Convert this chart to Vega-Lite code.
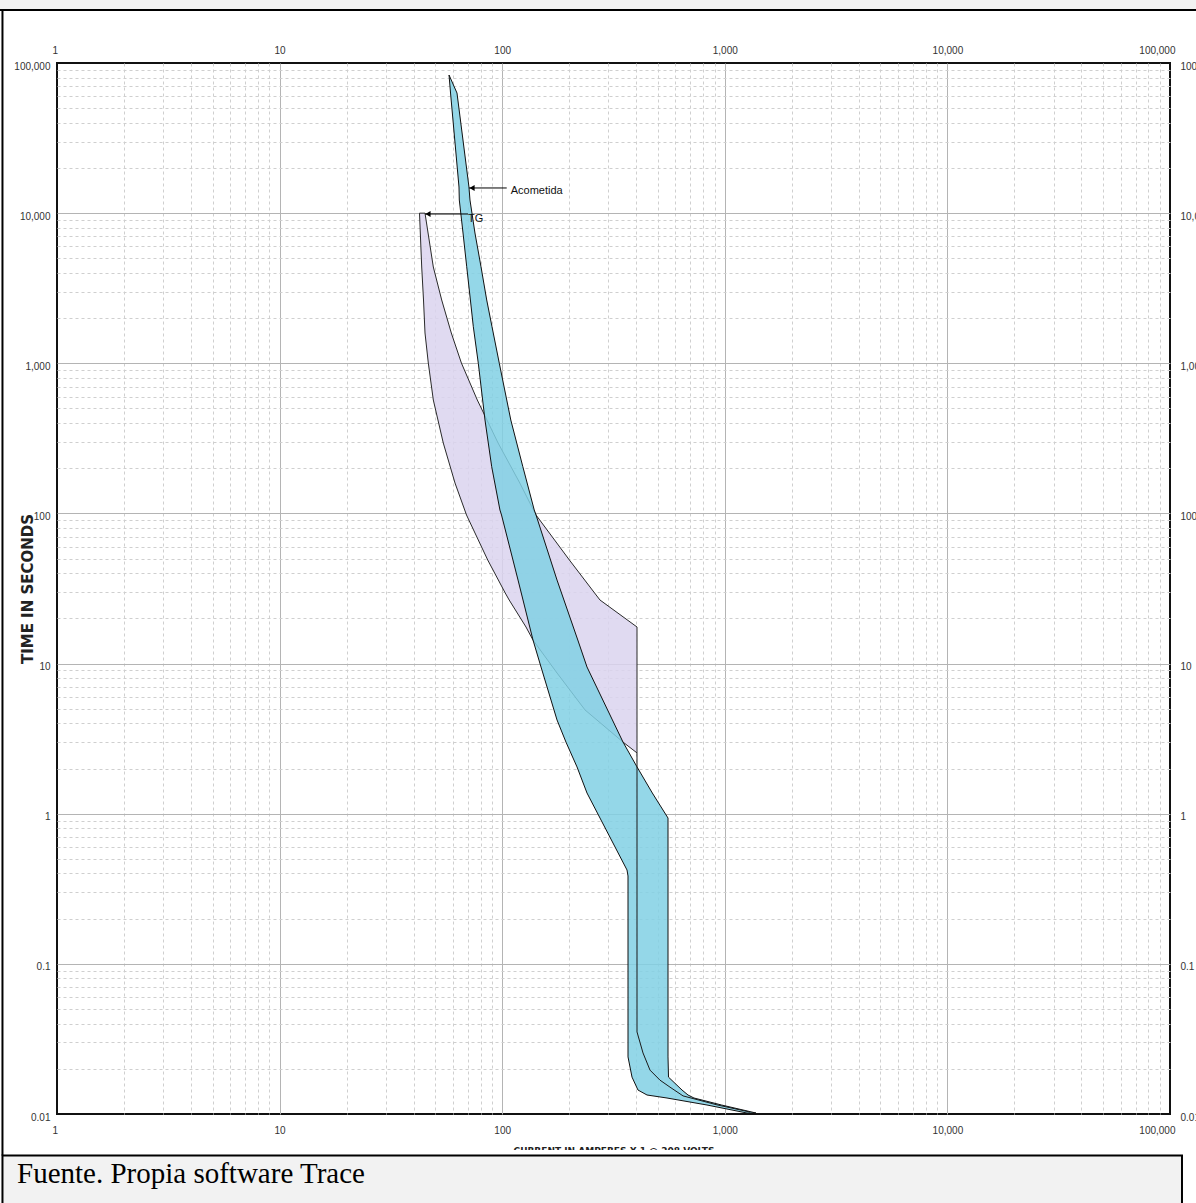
{
  "$schema": "https://vega.github.io/schema/vega-lite/v6.json",
  "width": 1113,
  "height": 1051,
  "autosize": {"type": "none"},
  "padding": {"left": 57, "top": 63, "right": 26, "bottom": 89},
  "background": "#ffffff",
  "config": {"view": {"stroke": "#111111", "strokeWidth": 2}},
  "datasets": {
    "tg_band": [
      {"time_s": 10000, "amp_min": 42.51, "amp_max": 45.0},
      {"time_s": 4378, "amp_min": 43.49, "amp_max": 49.04},
      {"time_s": 2640, "amp_min": 44.31, "amp_max": 53.48},
      {"time_s": 1591, "amp_min": 45.0, "amp_max": 59.07},
      {"time_s": 1004, "amp_min": 46.56, "amp_max": 65.57},
      {"time_s": 569.3, "amp_min": 49.04, "amp_max": 77.3},
      {"time_s": 294.4, "amp_min": 54.37, "amp_max": 95.85},
      {"time_s": 159.4, "amp_min": 61.38, "amp_max": 120.0},
      {"time_s": 97.6, "amp_min": 69.13, "amp_max": 141.9},
      {"time_s": 48.95, "amp_min": 86.1, "amp_max": 200.4},
      {"time_s": 29.5, "amp_min": 103.2, "amp_max": 260.1},
      {"time_s": 26.5, "amp_min": 107.5, "amp_max": 275.0},
      {"time_s": 17.52, "amp_min": 127.9, "amp_max": 403.3},
      {"time_s": 14.35, "amp_min": 137.5, "amp_max": 403.3},
      {"time_s": 8.65, "amp_min": 176.3, "amp_max": 403.3},
      {"time_s": 4.91, "amp_min": 235.5, "amp_max": 403.3},
      {"time_s": 3.0, "amp_min": 348.9, "amp_max": 403.3},
      {"time_s": 2.54, "amp_min": 403.3, "amp_max": 403.3}
    ],
    "acom_band": [
      {"time_s": 83180, "amp_min": 57.7, "amp_max": 57.7},
      {"time_s": 63100, "amp_min": 58.6, "amp_max": 62.65},
      {"time_s": 14930, "amp_min": 63.96, "amp_max": 70.9},
      {"time_s": 12230, "amp_min": 64.17, "amp_max": 71.65},
      {"time_s": 7374, "amp_min": 66.68, "amp_max": 75.45},
      {"time_s": 4398, "amp_min": 69.27, "amp_max": 80.3},
      {"time_s": 2640, "amp_min": 71.97, "amp_max": 85.2},
      {"time_s": 1752, "amp_min": 74.17, "amp_max": 90.0},
      {"time_s": 1000, "amp_min": 78.1, "amp_max": 97.05},
      {"time_s": 419, "amp_min": 83.7, "amp_max": 109.3},
      {"time_s": 204.8, "amp_min": 89.7, "amp_max": 123.8},
      {"time_s": 105.4, "amp_min": 97.7, "amp_max": 139.3},
      {"time_s": 97.6, "amp_min": 99.3, "amp_max": 141.9},
      {"time_s": 36.0, "amp_min": 117.8, "amp_max": 176.3},
      {"time_s": 14.35, "amp_min": 137.5, "amp_max": 218.6},
      {"time_s": 9.49, "amp_min": 149.4, "amp_max": 240.4},
      {"time_s": 4.21, "amp_min": 176.3, "amp_max": 312.7},
      {"time_s": 3.0, "amp_min": 193.4, "amp_max": 348.9},
      {"time_s": 2.05, "amp_min": 216.8, "amp_max": 403.3},
      {"time_s": 1.374, "amp_min": 240.4, "amp_max": 472.5},
      {"time_s": 0.936, "amp_min": 275.0, "amp_max": 555.7},
      {"time_s": 0.422, "amp_min": 363.6, "amp_max": 555.7},
      {"time_s": 0.385, "amp_min": 367.4, "amp_max": 555.7},
      {"time_s": 0.024, "amp_min": 367.4, "amp_max": 555.7},
      {"time_s": 0.0176, "amp_min": 383.0, "amp_max": 558.6},
      {"time_s": 0.01444, "amp_min": 407.4, "amp_max": 642.4},
      {"time_s": 0.01338, "amp_min": 447.2, "amp_max": 683.6},
      {"time_s": 0.01278, "amp_min": 550.0, "amp_max": 727.0},
      {"time_s": 0.01148, "amp_min": 831.8, "amp_max": 966.5},
      {"time_s": 0.01015, "amp_min": 1258, "amp_max": 1381}
    ],
    "tg_inst": [
      {"time_s": 2.54, "amps": 403.3},
      {"time_s": 0.0352, "amps": 403.3},
      {"time_s": 0.0255, "amps": 429.1},
      {"time_s": 0.0196, "amps": 461.3},
      {"time_s": 0.0168, "amps": 511.5},
      {"time_s": 0.0151, "amps": 567.3},
      {"time_s": 0.0132, "amps": 649.1},
      {"time_s": 0.0115, "amps": 922.6},
      {"time_s": 0.0103, "amps": 1298}
    ],
    "labels": [
      {"name": "Acometida", "time_s": 14710, "tip": 70.9, "tail": 104.8, "head": 73.2, "text_at": 109.2, "text_time": 13940},
      {"name": "TG", "time_s": 9870, "tip": 45.0, "tail": 70.2, "head": 46.4, "text_at": 70.2, "text_time": 9210}
    ]
  },
  "layer": [
    {
      "layer": [
        {
          "data": {"name": "tg_band"},
          "mark": {"type": "area", "orient": "horizontal", "fill": "#dbd3ee", "fillOpacity": 0.85, "stroke": "#2a2a2a", "strokeWidth": 1},
          "encoding": {
            "y": {
              "field": "time_s", "type": "quantitative",
              "scale": {"type": "log", "domain": [0.01, 100000], "nice": false},
              "axis": {
                "orient": "left",
                "values": [0.01,0.02,0.03,0.04,0.05,0.06,0.07,0.08,0.09,0.1,0.2,0.3,0.4,0.5,0.6,0.7,0.8,0.9,1,2,3,4,5,6,7,8,9,10,20,30,40,50,60,70,80,90,100,200,300,400,500,600,700,800,900,1000,2000,3000,4000,5000,6000,7000,8000,9000,10000,20000,30000,40000,50000,60000,70000,80000,90000,100000],
                "format": ",",
                "labelExpr": "abs(log(datum.value)/LN10 - round(log(datum.value)/LN10)) < 0.001 ? datum.label : ''",
                "grid": true,
                "gridColor": {"condition": {"test": "abs(log(datum.value)/LN10 - round(log(datum.value)/LN10)) < 0.001", "value": "#b4b4b4"}, "value": "#cfcfcf"},
                "gridDash": {"condition": {"test": "abs(log(datum.value)/LN10 - round(log(datum.value)/LN10)) < 0.001", "value": []}, "value": [3, 3]},
                "gridOpacity": {"condition": {"test": "datum.value < 0.0105 || datum.value > 95000", "value": 0}, "value": 1},
                "gridWidth": 1,
                "ticks": false,
                "tickSize": 0,
                "domain": false,
                "labelFont": "Liberation Sans",
                "labelFontSize": 10,
                "labelColor": "#333333",
                "labelPadding": 7,
                "labelOffset": 3,
                "labelFlush": false,
                "labelOverlap": false,
                "title": "TIME IN SECONDS",
                "titleFont": "DejaVu Sans",
                "titleFontWeight": "bold",
                "titleFontSize": 15,
                "titleColor": "#222222",
                "titleX": -30,
                "titleBaseline": "middle"
              }
            },
            "x": {
              "field": "amp_min", "type": "quantitative",
              "scale": {"type": "log", "domain": [1, 100000], "nice": false},
              "axis": {
                "orient": "bottom",
                "values": [1,2,3,4,5,6,7,8,9,10,20,30,40,50,60,70,80,90,100,200,300,400,500,600,700,800,900,1000,2000,3000,4000,5000,6000,7000,8000,9000,10000,20000,30000,40000,50000,60000,70000,80000,90000,100000],
                "format": ",",
                "labelExpr": "abs(log(datum.value)/LN10 - round(log(datum.value)/LN10)) < 0.001 ? datum.label : ''",
                "grid": true,
                "gridColor": {"condition": {"test": "abs(log(datum.value)/LN10 - round(log(datum.value)/LN10)) < 0.001", "value": "#b4b4b4"}, "value": "#cfcfcf"},
                "gridDash": {"condition": {"test": "abs(log(datum.value)/LN10 - round(log(datum.value)/LN10)) < 0.001", "value": []}, "value": [3, 3]},
                "gridOpacity": {"condition": {"test": "datum.value < 1.5 || datum.value > 95000", "value": 0}, "value": 1},
                "gridWidth": 1,
                "ticks": false,
                "tickSize": 0,
                "domain": false,
                "labelFont": "Liberation Sans",
                "labelFontSize": 10,
                "labelColor": "#333333",
                "labelPadding": 11,
                "labelFlush": true,
                "labelFlushOffset": 5,
                "labelOverlap": false,
                "title": "CURRENT IN AMPERES X 1 @ 208 VOLTS",
                "titleFont": "DejaVu Sans",
                "titleFontWeight": "bold",
                "titleFontSize": 9,
                "titleColor": "#222222",
                "titleY": 39,
                "titleBaseline": "alphabetic"
              }
            },
            "x2": {"field": "amp_max"}
          }
        },
        {
          "data": {"name": "acom_band"},
          "mark": {"type": "area", "orient": "horizontal", "fill": "#81d0e4", "fillOpacity": 0.85, "stroke": "#111111", "strokeWidth": 1},
          "encoding": {
            "y": {"field": "time_s", "type": "quantitative", "scale": {"type": "log", "domain": [0.01, 100000], "nice": false}},
            "x": {"field": "amp_min", "type": "quantitative", "scale": {"type": "log", "domain": [1, 100000], "nice": false}},
            "x2": {"field": "amp_max"}
          }
        },
        {
          "data": {"name": "tg_inst"},
          "mark": {"type": "line", "stroke": "#1a1a1a", "strokeWidth": 1},
          "encoding": {
            "y": {"field": "time_s", "type": "quantitative", "scale": {"type": "log", "domain": [0.01, 100000], "nice": false}},
            "x": {"field": "amps", "type": "quantitative", "scale": {"type": "log", "domain": [1, 100000], "nice": false}},
            "order": {"field": "time_s", "sort": "descending"}
          }
        }
      ]
    },
    {
      "layer": [
        {
          "data": {"name": "labels"},
          "mark": {"type": "rule", "stroke": "#000000", "strokeWidth": 1},
          "encoding": {
            "y": {
              "field": "time_s", "type": "quantitative",
              "scale": {"type": "log", "domain": [0.01, 100000], "nice": false},
              "axis": {
                "orient": "right",
                "values": [0.01, 0.1, 1, 10, 100, 1000, 10000, 100000],
                "format": ",",
                "grid": false,
                "ticks": false,
                "tickSize": 0,
                "domain": false,
                "labelFont": "Liberation Sans",
                "labelFontSize": 10,
                "labelColor": "#333333",
                "labelPadding": 10,
                "labelOffset": 3,
                "labelFlush": false,
                "labelOverlap": false,
                "title": null
              }
            },
            "x": {
              "field": "tip", "type": "quantitative",
              "scale": {"type": "log", "domain": [1, 100000], "nice": false},
              "axis": {
                "orient": "top",
                "values": [1, 10, 100, 1000, 10000, 100000],
                "format": ",",
                "grid": false,
                "ticks": false,
                "tickSize": 0,
                "domain": false,
                "labelFont": "Liberation Sans",
                "labelFontSize": 10,
                "labelColor": "#333333",
                "labelPadding": 8,
                "labelFlush": true,
                "labelFlushOffset": 5,
                "labelOverlap": false,
                "title": null
              }
            },
            "x2": {"field": "tail"}
          }
        },
        {
          "data": {"name": "labels"},
          "mark": {"type": "point", "shape": "triangle-left", "filled": true, "color": "#000000", "size": 36, "opacity": 1},
          "encoding": {
            "y": {"field": "time_s", "type": "quantitative", "scale": {"type": "log", "domain": [0.01, 100000], "nice": false}},
            "x": {"field": "head", "type": "quantitative", "scale": {"type": "log", "domain": [1, 100000], "nice": false}}
          }
        },
        {
          "data": {"name": "labels"},
          "mark": {"type": "text", "align": "left", "baseline": "middle", "font": "Liberation Sans", "fontSize": 11, "color": "#111111"},
          "encoding": {
            "y": {"field": "text_time", "type": "quantitative", "scale": {"type": "log", "domain": [0.01, 100000], "nice": false}},
            "x": {"field": "text_at", "type": "quantitative", "scale": {"type": "log", "domain": [1, 100000], "nice": false}},
            "text": {"field": "name"}
          }
        },
        {
          "data": {"values": [{}]},
          "mark": {"type": "rect", "fill": "#f2f2f2", "stroke": "#000000", "strokeWidth": 2},
          "encoding": {
            "x": {"datum": 0.3, "type": "quantitative", "scale": {"type": "log", "domain": [1, 100000], "nice": false}},
            "x2": {"datum": 300000},
            "y": {"datum": 357000, "type": "quantitative", "scale": {"type": "log", "domain": [0.01, 100000], "nice": false}},
            "y2": {"datum": 225400}
          }
        },
        {
          "data": {"values": [{}]},
          "mark": {"type": "rule", "stroke": "#000000", "strokeWidth": 2},
          "encoding": {
            "x": {"datum": 0.5689, "type": "quantitative", "scale": {"type": "log", "domain": [1, 100000], "nice": false}},
            "y": {"datum": 225400, "type": "quantitative", "scale": {"type": "log", "domain": [0.01, 100000], "nice": false}},
            "y2": {"datum": 0.005292}
          }
        },
        {
          "data": {"values": [{}]},
          "mark": {"type": "rect", "fill": "#ffffff", "strokeWidth": 0},
          "encoding": {
            "x": {"datum": 0.6, "type": "quantitative", "scale": {"type": "log", "domain": [1, 100000], "nice": false}},
            "x2": {"datum": 113000},
            "y": {"datum": 0.005755, "type": "quantitative", "scale": {"type": "log", "domain": [0.01, 100000], "nice": false}},
            "y2": {"datum": 0.00533}
          }
        },
        {
          "data": {"values": [{}]},
          "mark": {"type": "rect", "fill": "#f2f2f2", "stroke": "#000000", "strokeWidth": 2},
          "encoding": {
            "x": {"datum": 0.5689, "type": "quantitative", "scale": {"type": "log", "domain": [1, 100000], "nice": false}},
            "x2": {"datum": 113200},
            "y": {"datum": 0.005292, "type": "quantitative", "scale": {"type": "log", "domain": [0.01, 100000], "nice": false}},
            "y2": {"datum": 0.001688}
          }
        },
        {
          "data": {"values": [{"caption": "Fuente. Propia software Trace"}]},
          "mark": {"type": "text", "align": "left", "baseline": "alphabetic", "font": "Liberation Serif", "fontSize": 29, "color": "#000000"},
          "encoding": {
            "x": {"datum": 0.6613, "type": "quantitative", "scale": {"type": "log", "domain": [1, 100000], "nice": false}},
            "y": {"datum": 0.00347, "type": "quantitative", "scale": {"type": "log", "domain": [0.01, 100000], "nice": false}},
            "text": {"field": "caption"}
          }
        }
      ]
    }
  ],
  "resolve": {"axis": {"x": "independent", "y": "independent"}}
}
